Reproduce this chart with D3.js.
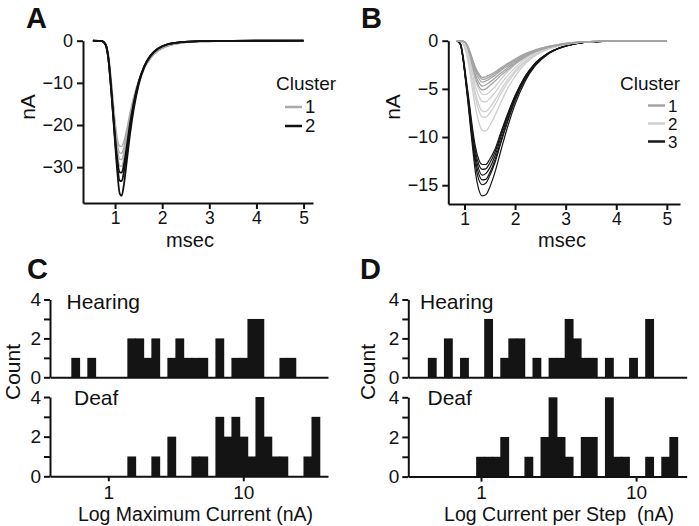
<!DOCTYPE html>
<html><head><meta charset="utf-8">
<script src="https://cdn.jsdelivr.net/npm/d3@7"></script>
<style>
html,body{margin:0;padding:0;background:#fff;}
svg{display:block;font-family:"Liberation Sans",Arial,Helvetica,sans-serif;}
text{white-space:pre;}
</style></head>
<body>
<svg id="chart" width="699" height="526"></svg>
<script>
// ---------- DATA ----------
// Panel A: time grid (msec) and traces (nA)
const timeA = [0.53,0.72,0.80,0.86,0.92,0.98,1.04,1.10,1.14,1.19,1.25,1.32,1.40,1.50,1.62,1.75,1.90,2.10,2.40,2.80,3.50,5.00];
const clusterA1 = [ // gray
  [0,-0.1,-0.8,-3.8,-10.5,-18.5,-26,-29.7,-29.8,-27.8,-24,-19,-14.5,-10.2,-6.6,-4.2,-2.5,-1.3,-0.55,-0.2,-0.05,0],
  [0,-0.1,-0.8,-3.7,-10.2,-18,-25,-28.1,-28.2,-26.5,-23,-18.5,-14,-10,-6.5,-4.2,-2.5,-1.3,-0.55,-0.2,-0.05,0],
  [0,-0.1,-0.8,-3.6,-10,-17.5,-24,-26.6,-26.7,-25.2,-22,-17.8,-13.6,-9.8,-6.4,-4.1,-2.5,-1.3,-0.55,-0.2,-0.05,0],
  [0,-0.1,-0.7,-3.5,-9.6,-16.8,-22.8,-25.0,-25.1,-23.8,-21,-17,-13.2,-9.5,-6.3,-4.0,-2.4,-1.3,-0.55,-0.2,-0.05,0]
];
const clusterA2 = [ // black
  [0,-0.1,-0.9,-4.2,-11.5,-20,-27.5,-31.2,-31.3,-29.3,-25,-19.5,-14.5,-9.8,-6.0,-3.5,-1.9,-0.9,-0.35,-0.12,-0.03,0],
  [0,-0.1,-1.0,-4.5,-12,-20.5,-28.5,-33.2,-33.3,-31,-26.5,-20.5,-15,-10,-6.1,-3.6,-2.0,-0.9,-0.35,-0.12,-0.03,0],
  [0,-0.1,-1.0,-4.5,-12,-21,-30,-36.3,-36.8,-34,-28.5,-22,-16,-10.5,-6.3,-3.7,-2.0,-0.9,-0.35,-0.12,-0.03,0]
];
const yTicksA = [0,-10,-20,-30];
const xTicksAB = [1,2,3,4,5];

// Panel B
const timeB = [0.85,0.92,0.97,1.02,1.07,1.12,1.17,1.22,1.28,1.35,1.42,1.50,1.60,1.72,1.86,2.00,2.20,2.40,2.65,2.90,3.20,3.60,4.20,5.00];
const clusterB1 = [ // medium gray
  [0,0,-0.05,-0.2,-0.6,-1.3,-2.1,-2.8,-3.4,-3.8,-3.75,-3.55,-3.25,-2.8,-2.35,-1.9,-1.35,-0.95,-0.6,-0.35,-0.16,-0.06,-0.02,0],
  [0,0,-0.05,-0.2,-0.65,-1.4,-2.2,-3.0,-3.6,-4.0,-3.95,-3.75,-3.4,-2.95,-2.45,-2.0,-1.4,-1.0,-0.62,-0.36,-0.17,-0.06,-0.02,0],
  [0,0,-0.05,-0.2,-0.7,-1.5,-2.4,-3.2,-3.9,-4.3,-4.2,-3.95,-3.6,-3.1,-2.6,-2.1,-1.5,-1.05,-0.65,-0.38,-0.18,-0.07,-0.02,0],
  [0,0,-0.05,-0.25,-0.8,-1.7,-2.7,-3.6,-4.3,-4.7,-4.6,-4.3,-3.9,-3.35,-2.8,-2.25,-1.6,-1.1,-0.7,-0.4,-0.19,-0.07,-0.02,0],
  [0,0,-0.05,-0.25,-0.85,-1.8,-2.9,-3.9,-4.7,-5.1,-5.0,-4.65,-4.2,-3.6,-3.0,-2.4,-1.7,-1.15,-0.72,-0.42,-0.2,-0.07,-0.02,0]
];
const clusterB2 = [ // light gray
  [0,-0.05,-0.2,-0.6,-1.3,-2.3,-3.3,-4.2,-5.0,-5.55,-5.6,-5.3,-4.8,-4.0,-3.2,-2.5,-1.75,-1.2,-0.74,-0.42,-0.19,-0.07,-0.02,0],
  [0,-0.05,-0.2,-0.7,-1.5,-2.6,-3.7,-4.8,-5.7,-6.3,-6.35,-6.0,-5.4,-4.5,-3.6,-2.8,-1.9,-1.3,-0.78,-0.44,-0.2,-0.07,-0.02,0],
  [0,-0.05,-0.25,-0.8,-1.8,-3.0,-4.3,-5.5,-6.6,-7.3,-7.35,-6.95,-6.2,-5.1,-4.0,-3.1,-2.1,-1.4,-0.82,-0.46,-0.21,-0.08,-0.02,0],
  [0,-0.05,-0.25,-0.9,-1.9,-3.2,-4.7,-6.0,-7.2,-7.9,-7.95,-7.5,-6.7,-5.5,-4.3,-3.3,-2.2,-1.45,-0.85,-0.48,-0.22,-0.08,-0.02,0],
  [0,-0.05,-0.3,-1.0,-2.2,-3.8,-5.5,-7.0,-8.4,-9.3,-9.35,-8.8,-7.8,-6.4,-4.9,-3.7,-2.4,-1.55,-0.9,-0.5,-0.23,-0.08,-0.02,0]
];
const clusterB3 = [ // black
  [0,-0.3,-1.5,-3.4,-5.4,-7.5,-9.5,-11.1,-12.3,-12.85,-12.85,-12.3,-11.3,-9.5,-7.5,-5.7,-3.7,-2.3,-1.3,-0.7,-0.3,-0.1,-0.02,0],
  [0,-0.3,-1.6,-3.6,-5.7,-7.9,-10.0,-11.6,-12.8,-13.35,-13.3,-12.7,-11.6,-9.7,-7.6,-5.8,-3.7,-2.35,-1.3,-0.7,-0.3,-0.1,-0.02,0],
  [0,-0.4,-1.8,-3.8,-5.9,-8.2,-10.3,-12.0,-13.3,-13.95,-13.8,-13.2,-12.0,-10.0,-7.8,-5.9,-3.8,-2.4,-1.3,-0.7,-0.3,-0.1,-0.02,0],
  [0,-0.4,-1.8,-3.9,-6.1,-8.5,-10.7,-12.5,-13.8,-14.45,-14.4,-13.7,-12.4,-10.4,-8.1,-6.1,-3.9,-2.45,-1.35,-0.72,-0.3,-0.1,-0.02,0],
  [0,-0.4,-1.8,-4.0,-6.2,-8.7,-11.0,-13.0,-14.4,-14.95,-14.8,-14.0,-12.7,-10.6,-8.3,-6.2,-4.0,-2.5,-1.35,-0.72,-0.3,-0.1,-0.02,0],
  [0,-0.4,-1.9,-4.1,-6.5,-9.1,-11.6,-13.8,-15.4,-16.1,-16.0,-15.2,-13.7,-11.4,-8.8,-6.6,-4.2,-2.6,-1.4,-0.75,-0.32,-0.1,-0.02,0]
];
const yTicksB = [0,-5,-10,-15];

// Panel C: log10 bins of maximum current (nA)
const cBinLog0 = -0.271, cBinLogStep = 0.0593;
const cHearing = [1,0,1,0,0,0,0,2,2,1,2,0,1,2,1,1,1,0,2,0,1,1,3,3,0,0,1,1];
const cDeaf    = [0,0,0,0,0,0,0,1,0,0,1,0,2,0,0,1,1,0,3,2,3,2,1,4,2,1,1,0,0,1,3];
// Panel D: log10 bins of current per step (nA)
const dBinLog0 = -0.340, dBinLogStep = 0.0519;
const dHearing = [1,0,2,0,1,0,0,3,0,1,2,2,0,1,0,1,1,3,2,1,1,0,1,0,0,1,0,3];
const dDeaf    = [0,0,0,0,0,0,1,1,1,2,0,0,1,0,2,4,2,1,0,2,2,0,4,1,1,0,0,1,0,1,2];
const countTicks = [0,1,2,3,4];
const logTicks = [1,10];

// ---------- DRAW ----------
const svg = d3.select("#chart");
const INK = "#111";

function styleAxis(g){
  g.selectAll(".domain").attr("stroke",INK).attr("stroke-width",2);
  g.selectAll(".tick line").attr("stroke",INK).attr("stroke-width",2);
  g.selectAll(".tick text").attr("fill",INK).style("font-family","'Liberation Sans',Arial,sans-serif");
}

function tracePanel(o){
  const x = d3.scaleLinear().domain(o.xDom).range(o.xRange);
  const y = d3.scaleLinear().domain(o.yDom).range(o.yRange);
  const g = svg.append("g");
  const line = d3.line().x((d,i)=>x(o.time[i])).y(d=>y(d)).curve(d3.curveMonotoneX);
  o.groups.forEach(gr=>{
    g.append("g").selectAll("path").data(gr.traces).join("path")
      .attr("d",line).attr("fill","none").attr("stroke",gr.color)
      .attr("stroke-width",gr.width).attr("stroke-linejoin","round");
  });
  const gx = g.append("g").attr("transform",`translate(0,${o.yRange[0]})`)
    .call(d3.axisBottom(x).tickValues(xTicksAB).tickFormat(d3.format("d")).tickSize(6).tickSizeOuter(0).tickPadding(3));
  gx.selectAll("text").attr("font-size",17.5);
  styleAxis(gx);
  const gy = g.append("g").attr("transform",`translate(${o.xRange[0]},0)`)
    .call(d3.axisLeft(y).tickValues(o.yTicks).tickSize(6).tickSizeOuter(0).tickPadding(4));
  gy.selectAll("text").attr("font-size",18);
  styleAxis(gy);
  // axis titles
  g.append("text").attr("x",o.msecX).attr("y",247).attr("text-anchor","middle")
    .attr("font-size",20).attr("fill",INK).text("msec");
  g.append("text").attr("transform",`translate(${o.nAx},107) rotate(-90)`).attr("text-anchor","middle")
    .attr("font-size",21).attr("fill",INK).text("nA");
  // legend
  g.append("text").attr("x",o.legX).attr("y",90).attr("font-size",19).attr("fill",INK).text("Cluster");
  o.groups.slice().sort((a,b)=>a.order-b.order).forEach((gr,i)=>{
    const ly = o.legY0 + i*o.legDy;
    g.append("line").attr("x1",o.legLineX).attr("x2",o.legLineX+17).attr("y1",ly).attr("y2",ly)
      .attr("stroke",gr.legendColor||gr.color).attr("stroke-width",2.5);
    g.append("text").attr("x",o.legLineX+20).attr("y",ly+6).attr("font-size",o.legFont).attr("fill",INK).text(gr.label);
  });
}

tracePanel({
  time: timeA, xDom:[0.32,5.2], xRange:[83,313], yDom:[-38.5,0], yRange:[203,40.7],
  yTicks: yTicksA, msecX:190, nAx:35,
  legX:276, legLineX:285, legY0:107, legDy:19, legFont:18.5,
  groups:[
    {traces:clusterA1, color:"#ababab", width:1.5, label:"1", order:1},
    {traces:clusterA2, color:"#111", width:1.8, label:"2", order:2}
  ]
});
tracePanel({
  time: timeB, xDom:[0.68,5.26], xRange:[448.3,680], yDom:[-16.95,0], yRange:[204,40.7],
  yTicks: yTicksB, msecX:562, nAx:400,
  legX:620, legLineX:648, legY0:105.5, legDy:18, legFont:17,
  groups:[
    {traces:clusterB3, color:"#161616", width:1.2, label:"3", order:3},
    {traces:clusterB2, color:"#cfcfcf", width:1.3, label:"2", order:2},
    {traces:clusterB1, color:"#a3a3a3", width:1.3, label:"1", order:1}
  ]
});

function histPanel(o){
  const x = d3.scaleLog().domain(o.xDom).range(o.xRange);
  const g = svg.append("g");
  o.rows.forEach((row,ri)=>{
    const y = d3.scaleLinear().domain([0,4]).range(row.yRange);
    const bins = row.counts.map((c,i)=>({c,
      x0: Math.pow(10, o.log0 + i*o.step), x1: Math.pow(10, o.log0 + (i+1)*o.step)}))
      .filter(b=>b.c>0);
    g.append("g").selectAll("rect").data(bins).join("rect")
      .attr("x",d=>x(d.x0)-0.4).attr("width",d=>x(d.x1)-x(d.x0)+0.8)
      .attr("y",d=>y(d.c)).attr("height",d=>y(0)-y(d.c)).attr("fill","#141414");
    const gy = g.append("g").attr("transform",`translate(${o.xRange[0]},0)`)
      .call(d3.axisLeft(y).tickValues(countTicks).tickFormat(d=>d%2===0?d:"").tickSize(6).tickSizeOuter(0).tickPadding(3));
    gy.selectAll("text").attr("font-size",19);
    styleAxis(gy);
    const ax = ri===1 ? d3.axisBottom(x).tickValues(logTicks).tickFormat(d3.format("d")).tickSize(5).tickSizeOuter(0).tickPadding(4)
                      : d3.axisBottom(x).tickValues([]).tickSizeOuter(0);
    const gx = g.append("g").attr("transform",`translate(0,${row.yRange[0]})`).call(ax);
    gx.selectAll("text").attr("font-size",19);
    styleAxis(gx);
    g.append("text").attr("x",o.labelX[ri]).attr("y",row.labelY).attr("font-size",21).attr("fill",INK).text(row.label);
  });
  g.append("text").attr("transform",`translate(${o.countX},372) rotate(-90)`).attr("text-anchor","middle")
    .attr("font-size",21).attr("fill",INK).text("Count");
  g.append("text").attr("x",o.titleX).attr("y",521).attr("text-anchor","middle")
    .attr("font-size",19.5).attr("fill",INK).text(o.title);
}

histPanel({
  xDom:[0.37,42.4], xRange:[50,328], log0:cBinLog0, step:cBinLogStep,
  rows:[{counts:cHearing, yRange:[377.3,299.5], label:"Hearing", labelY:308.5},
        {counts:cDeaf, yRange:[476.3,397], label:"Deaf", labelY:405}],
  labelX:[66.5,74], countX:20, titleX:195.5, title:"Log Maximum Current (nA)"
});
histPanel({
  xDom:[0.34,21.2], xRange:[408.3,686.7], log0:dBinLog0, step:dBinLogStep,
  rows:[{counts:dHearing, yRange:[377.3,299.5], label:"Hearing", labelY:308.5},
        {counts:dDeaf, yRange:[476.6,397.3], label:"Deaf", labelY:405}],
  labelX:[420,427.5], countX:375, titleX:559, title:"Log Current per Step  (nA)"
});

// panel letters
[["A",26,28],["B",361,28],["C",27,279],["D",360,279]].forEach(([t,x,y])=>{
  svg.append("text").attr("x",x).attr("y",y).attr("font-size",29).attr("font-weight","bold")
    .attr("fill",INK).text(t);
});
</script>
</body></html>
